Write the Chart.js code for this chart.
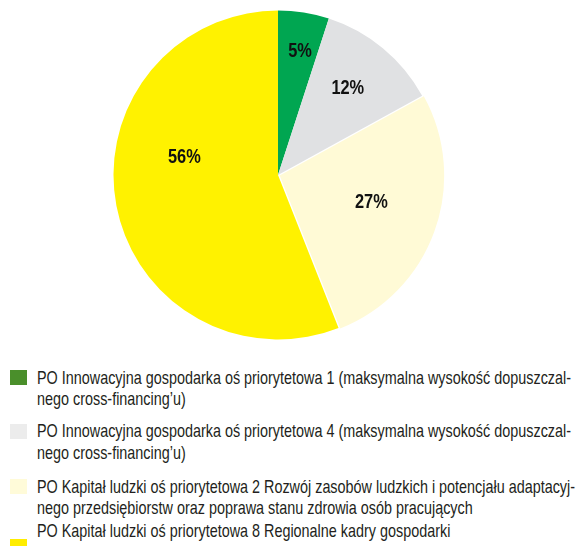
<!DOCTYPE html>
<html>
<head>
<meta charset="utf-8">
<script src="https://cdn.jsdelivr.net/npm/chart.js@4"></script>
<style>
  body { margin: 0; background: #fff; width: 576px; height: 546px; overflow: hidden; position: relative; }
  #pieBox { position: absolute; left: 110px; top: 7px; width: 336px; height: 336px; }
  .swatch { position: absolute; left: 10px; width: 17px; height: 15px; }
  .txt { position: absolute; left: 37px; font-family: "Liberation Sans", Arial, sans-serif;
         font-size: 18.5px; line-height: 21.5px; color: #231f20; white-space: nowrap; transform-origin: 0 0; }
</style>
</head>
<body>
<div id="pieBox"><canvas id="pieChart"></canvas></div>
<div id="legend"></div>
<script>
// udzial osi priorytetowych
var labels = [
    "PO Innowacyjna gospodarka oś priorytetowa 1 (maksymalna wysokość dopuszczalnego cross-financing'u)",
    "PO Innowacyjna gospodarka oś priorytetowa 4 (maksymalna wysokość dopuszczalnego cross-financing'u)",
    "PO Kapitał ludzki oś priorytetowa 2 Rozwój zasobów ludzkich i potencjału adaptacyjnego przedsiębiorstw oraz poprawa stanu zdrowia osób pracujących",
    "PO Kapitał ludzki oś priorytetowa 8 Regionalne kadry gospodarki"
];
var legendLines = [
    ["PO Innowacyjna gospodarka oś priorytetowa 1 (maksymalna wysokość dopuszczal-", "nego cross-financing’u)"],
    ["PO Innowacyjna gospodarka oś priorytetowa 4 (maksymalna wysokość dopuszczal-", "nego cross-financing’u)"],
    ["PO Kapitał ludzki oś priorytetowa 2 Rozwój zasobów ludzkich i potencjału adaptacyj-", "nego przedsiębiorstw oraz poprawa stanu zdrowia osób pracujących"],
    ["PO Kapitał ludzki oś priorytetowa 8 Regionalne kadry gospodarki"]
];
var shares = [5, 12, 27, 56];
var sliceColors = ["#00a651", "#e0e1e3", "#fffad6", "#fff200"];
var legendColors = ["#4a8f2b", "#ececec", "#fffbd9", "#ffed00"];

var legendTops = [366.5, 420, 475.5, 520];
var swatchTops = [370, 424, 479, 539];

// legenda w HTML (tekst zwezony jak w oryginale)
var legend = document.getElementById("legend");
var squeeze = 1;
legendLines.forEach(function (lines, i) {
    var sw = document.createElement("div");
    sw.className = "swatch";
    sw.style.top = swatchTops[i] + "px";
    sw.style.background = legendColors[i];
    legend.appendChild(sw);
    var t = document.createElement("div");
    t.className = "txt";
    t.style.top = legendTops[i] + "px";
    t.innerHTML = lines.join("<br>");
    legend.appendChild(t);
    if (i === 0) {
        var probe = document.createElement("span");
        probe.className = "txt";
        probe.style.visibility = "hidden";
        probe.textContent = lines[0];
        document.body.appendChild(probe);
        squeeze = 534 / probe.getBoundingClientRect().width;
        document.body.removeChild(probe);
    }
    t.style.transform = "scaleX(" + squeeze + ")";
});

// etykiety procentowe na wycinkach
var pctLabels = {
    id: "pctLabels",
    afterDatasetsDraw: function (chart, args, opts) {
        var ctx = chart.ctx;
        var arcs = chart.getDatasetMeta(0).data;
        arcs.forEach(function (arc, i) {
            var mid = (arc.startAngle + arc.endAngle) / 2 + opts.shift[i] * Math.PI / 180;
            var r = arc.outerRadius * opts.radius[i];
            ctx.save();
            ctx.translate(arc.x + Math.cos(mid) * r, arc.y + Math.sin(mid) * r);
            ctx.scale(0.78, 1);
            ctx.font = "bold 21px 'Liberation Sans', Arial, sans-serif";
            ctx.fillStyle = "#111";
            ctx.textAlign = "center";
            ctx.textBaseline = "middle";
            ctx.fillText(shares[i] + "%", 0, 1);
            ctx.restore();
        });
    }
};

new Chart(document.getElementById("pieChart"), {
    type: "pie",
    data: {
        labels: labels,
        datasets: [{
            data: shares,
            backgroundColor: sliceColors,
            borderWidth: 0,
            offset: [0, 0, 7, 0],
            hoverOffset: 0
        }]
    },
    options: {
        responsive: true,
        maintainAspectRatio: false,
        animation: false,
        layout: { padding: 0 },
        plugins: {
            legend: { display: false },
            tooltip: { enabled: false },
            pctLabels: { radius: [0.77, 0.68, 0.59, 0.58], shift: [1, -1, -4, 22] }
        }
    },
    plugins: [pctLabels]
});
</script>
</body>
</html>
